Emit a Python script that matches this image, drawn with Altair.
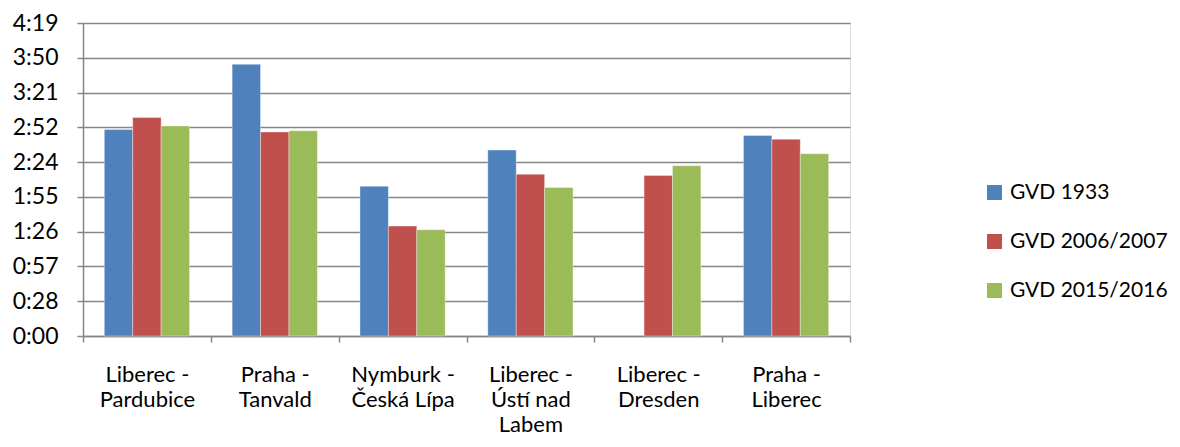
import altair as alt
import pandas as pd

# Category labels ("|" marks the line breaks of the axis label)
categories = [
    "Liberec -|Pardubice",
    "Praha -|Tanvald",
    "Nymburk -|Česká Lípa",
    "Liberec -|Ústí nad|Labem",
    "Liberec -|Dresden",
    "Praha -|Liberec",
]
series = ["GVD 1933", "GVD 2006/2007", "GVD 2015/2016"]

# Travel times in minutes (None = no value)
gvd_1933 = [171, 225, 124, 154, None, 166]
gvd_2006 = [181, 169, 91, 134, 133, 163]
gvd_2015 = [174, 170, 88, 123, 141, 151]

y_ticks = [0, 28.8, 57.6, 86.4, 115.2, 144, 172.8, 201.6, 230.4, 259.2]
colors = ["#4F81BD", "#C0504D", "#9BBB59"]

rows = []
for name, vals in zip(series, [gvd_1933, gvd_2006, gvd_2015]):
    for cat, v in zip(categories, vals):
        if v is not None:
            rows.append({"category": cat, "series": name, "minutes": v})
df = pd.DataFrame(rows)

FONT = "Lato"
GRID = "#868686"

time_expr = ("floor(datum.value/60) + ':' + (floor(datum.value%60) < 10 ? '0' : '') "
             "+ floor(datum.value%60)")

chart = alt.Chart(df).mark_bar(stroke="white", strokeWidth=0.6, strokeOpacity=0.6).encode(
    x=alt.X(
        "category:N",
        sort=categories,
        scale=alt.Scale(paddingInner=0, paddingOuter=0),
        axis=alt.Axis(
            title=None,
            labelAngle=0,
            labelExpr="split(datum.label, '|')",
            tickBand="extent",
            domainColor=GRID,
            domainWidth=1.5,
            tickColor=GRID,
            tickWidth=1.5,
            tickSize=6,
            labelPadding=22,
            labelFont=FONT,
            labelFontSize=22,
            labelColor="black",
            labelLineHeight=25,
            labelBaseline="top",
            labelLimit=200,
        ),
    ),
    xOffset=alt.XOffset(
        "series:N",
        sort=series,
        scale=alt.Scale(domain=series, paddingOuter=0.75, paddingInner=0),
    ),
    y=alt.Y(
        "minutes:Q",
        scale=alt.Scale(domain=[0, 259.2], nice=False, zero=True),
        axis=alt.Axis(
            title=None,
            values=y_ticks,
            labelExpr=time_expr,
            grid=True,
            gridColor=GRID,
            gridWidth=1.5,
            domainColor=GRID,
            domainWidth=1.5,
            tickColor=GRID,
            tickWidth=1.5,
            tickSize=6,
            labelPadding=19,
            labelFont=FONT,
            labelFontSize=23,
            labelColor="black",
        ),
    ),
    color=alt.Color(
        "series:N",
        sort=series,
        scale=alt.Scale(domain=series, range=colors),
        legend=alt.Legend(
            title=None,
            orient="none",
            legendX=901,
            legendY=159,
            symbolType="square",
            symbolSize=225,
            symbolStrokeWidth=0,
            labelFont=FONT,
            labelFontSize=21,
            labelColor="black",
            labelOffset=5,
            labelLimit=300,
            rowPadding=27,
            padding=0,
        ),
    ),
).properties(
    width=767,
    height=313,
    autosize=alt.AutoSizeParams(type="none"),
    padding={"left": 75, "top": 15, "right": 322, "bottom": 103},
).configure_view(stroke=None).configure(background="white")

chart.save("out.html", embed_options={"renderer": "svg", "actions": False})
